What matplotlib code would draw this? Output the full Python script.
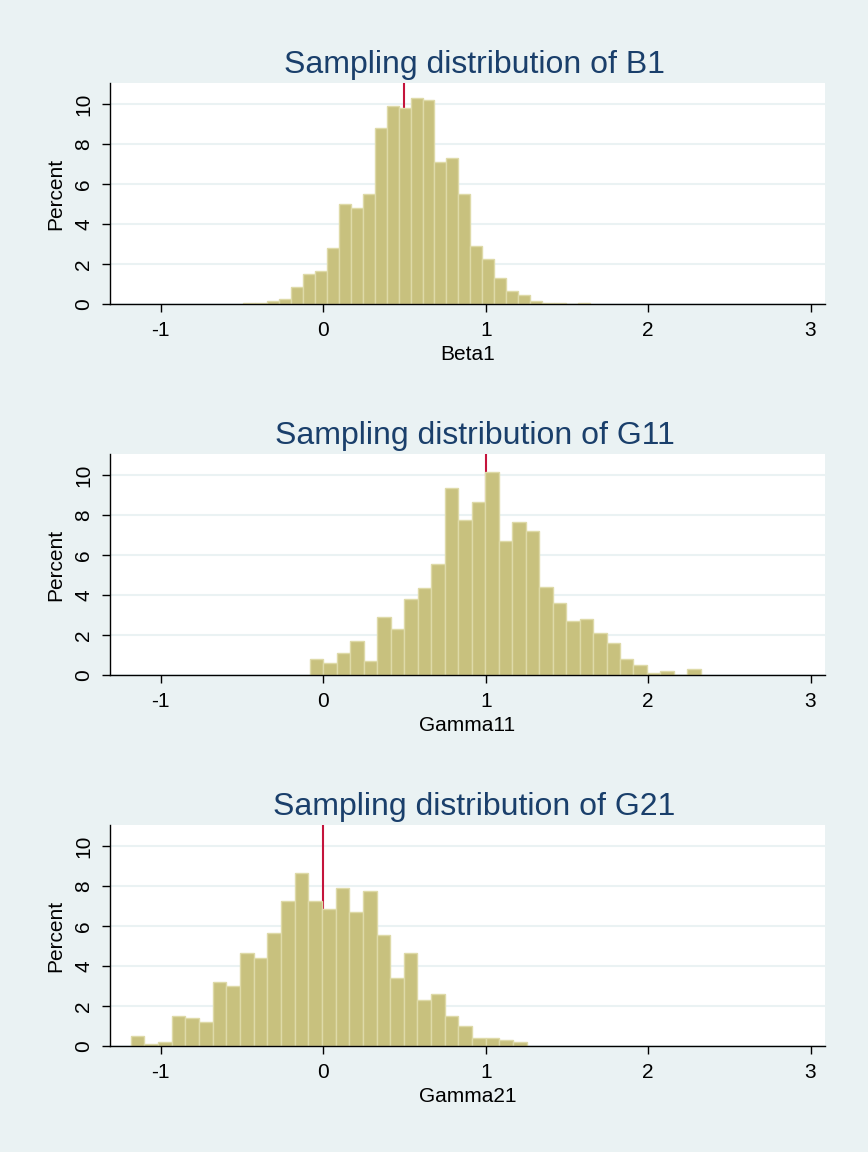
import numpy as np
import matplotlib
matplotlib.use("Agg")
import matplotlib.pyplot as plt

plt.rcParams['font.family'] = ['Liberation Sans', 'DejaVu Sans']
plt.rcParams['axes.unicode_minus'] = False

# histogram data (percent per bin)
b1_start, b1_width = -0.496, 0.0738
b1_pct = [0.07, 0.07, 0.15, 0.25, 0.85, 1.48, 1.67, 2.78, 4.98, 4.80, 5.48, 8.78, 9.92, 9.82, 10.30,
          10.20, 7.12, 7.28, 5.48, 2.88, 2.25, 1.28, 0.67, 0.45, 0.15, 0.07, 0.07, 0.0, 0.07]

g11_start, g11_width = -0.082, 0.0830
g11_pct = [0.78, 0.58, 1.08, 1.68, 0.70, 2.92, 2.30, 3.80, 4.33, 5.53, 9.33, 7.73, 8.63, 10.13, 6.72,
           7.63, 7.22, 4.42, 3.62, 2.72, 2.80, 2.12, 1.60, 0.80, 0.50, 0.10, 0.20, 0.0, 0.28]

g21_start, g21_width = -1.186, 0.0841
g21_pct = [0.50, 0.08, 0.20, 1.48, 1.38, 1.22, 3.18, 3.00, 4.63, 4.42, 5.63, 7.23, 8.63, 7.23, 6.83,
           7.92, 6.72, 7.73, 5.53, 3.42, 4.63, 2.28, 2.62, 1.48, 0.98, 0.40, 0.40, 0.28, 0.20]

titles = ['Sampling distribution of B1', 'Sampling distribution of G11', 'Sampling distribution of G21']
xlabels = ['Beta1', 'Gamma11', 'Gamma21']
true_vals = [0.5, 1.0, 0.0]
x_ticks = [-1, 0, 1, 2, 3]
y_ticks = [0, 2, 4, 6, 8, 10]

BG = '#EAF2F3'
BAR = '#C8C17E'
BAR_EDGE = '#DEDAA8'
NAVY = '#1A3F6B'
RED = '#C4143C'

W, H = 868, 1152
fig = plt.figure(figsize=(W / 100, H / 100), dpi=100, facecolor=BG)

# axes boxes in pixels: (top, bottom)
boxes = [(83, 304), (454, 675), (825, 1046)]
left, right = 110, 825

panels = [(b1_start, b1_width, b1_pct), (g11_start, g11_width, g11_pct), (g21_start, g21_width, g21_pct)]

for i, (start, width, pct) in enumerate(panels):
    top, bot = boxes[i]
    ax = fig.add_axes([left / W, 1 - bot / H, (right - left) / W, (bot - top) / H])
    ax.set_facecolor('white')
    edges = start + np.arange(len(pct)) * width
    ax.bar(edges, pct, width=width, align='edge', color=BAR, edgecolor=BAR_EDGE, linewidth=1.0, zorder=2)
    ax.axvline(true_vals[i], color=RED, linewidth=1.5, zorder=1.5)

    ax.set_xlim(-1.313, 3.089)
    ax.set_ylim(0, 11.05)
    ax.set_xticks(x_ticks)
    ax.set_yticks(y_ticks)
    ax.set_axisbelow(True)
    ax.yaxis.grid(True, color=BG, linewidth=1.5)

    for s in ['top', 'right']:
        ax.spines[s].set_visible(False)
    for s in ['left', 'bottom']:
        ax.spines[s].set_linewidth(1.0)
        ax.spines[s].set_color('black')

    ax.tick_params(axis='both', direction='out', length=6, width=1, labelsize=15, colors='black')
    ax.tick_params(axis='x', pad=6)
    ax.tick_params(axis='y', pad=6, labelrotation=90)
    for lab in ax.get_yticklabels():
        lab.set_va('center')

    ax.set_ylabel('Percent', fontsize=15)
    ax.yaxis.set_label_coords(-0.062, 0.5)
    ax.set_xlabel(xlabels[i], fontsize=15)
    ax.xaxis.set_label_coords(0.5, -0.185)

    ax.text(0.51, 1.045, titles[i], transform=ax.transAxes, ha='center', va='baseline',
            fontsize=23, color=NAVY)

fig.savefig('out.png', dpi=100, facecolor=BG)
